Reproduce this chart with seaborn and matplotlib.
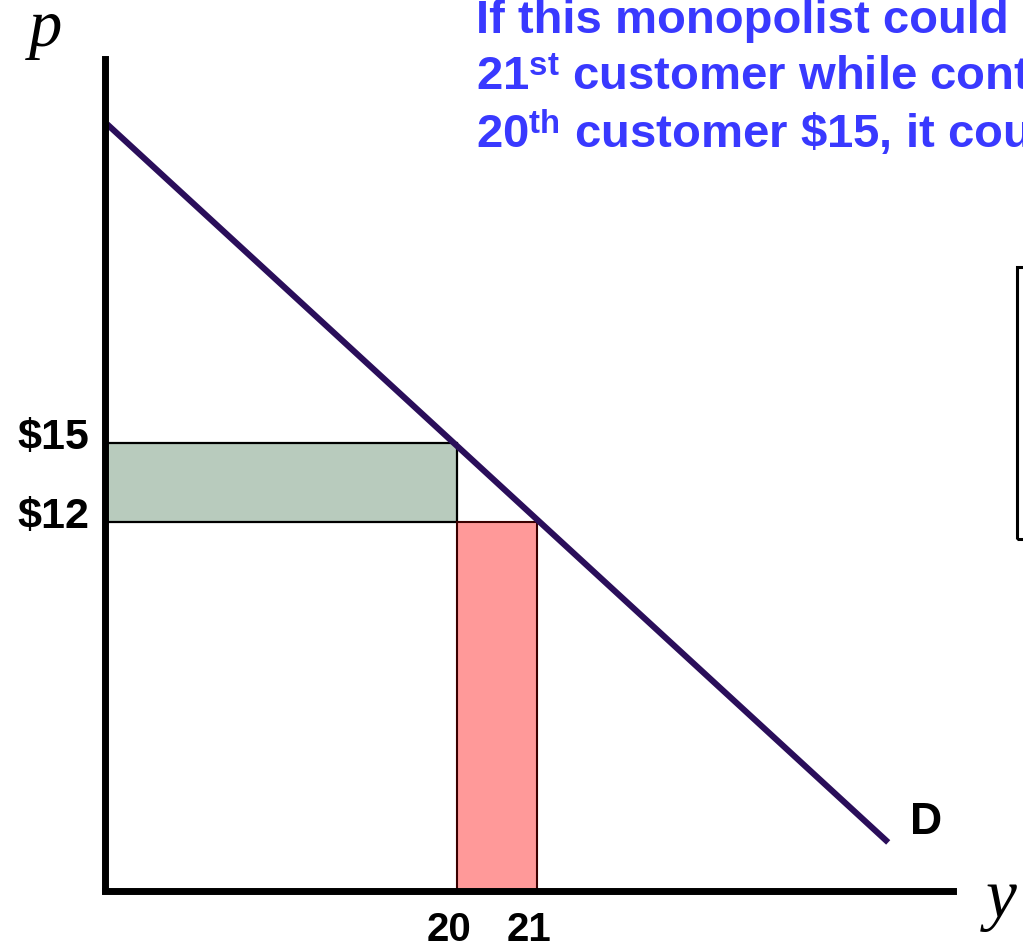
import matplotlib
matplotlib.use("Agg")
import matplotlib.pyplot as plt
from matplotlib.patches import Rectangle
from matplotlib.transforms import ScaledTranslation
import seaborn as sns

# ---- data ----
quantity = [20, 21]            # customers
prices = [15, 12]              # $ per unit
price_labels = ["$15", "$12"]
qty_labels = ["20", "21"]
demand_q = [15.625, 25.39]     # demand line endpoints (schematic)
demand_p = [27.11, -0.15]
title_lines = [r"If this monopolist could",
               r"21$^{\mathbf{st}}$ customer while cont",
               r"20$^{\mathbf{th}}$ customer \$15, it cou"]

W, H = 1023, 951
sns.set_style("white")
plt.rcParams["font.family"] = ["Liberation Sans", "DejaVu Sans"]
plt.rcParams["mathtext.fontset"] = "custom"
plt.rcParams["mathtext.rm"] = "Liberation Sans:bold"
plt.rcParams["mathtext.bf"] = "Liberation Sans:bold"
plt.rcParams["mathtext.it"] = "Liberation Serif:italic"
plt.rcParams["text.color"] = "black"
plt.rcParams["xtick.color"] = "black"
plt.rcParams["ytick.color"] = "black"

fig = plt.figure(figsize=(W / 100, H / 100), dpi=100)
fig.patch.set_facecolor("white")

def fx(x):
    return x / W

def fy(y):
    return 1 - y / H

left_px, right_px, top_px, bot_px = 104.5, 953, 59, 890.5
ax = fig.add_axes([fx(left_px), fy(bot_px), fx(right_px) - fx(left_px), fy(top_px) - fy(bot_px)])
xlim = (15.594, 26.2)
ylim = (-1.975, 29.58)
ax.set_xlim(*xlim)
ax.set_ylim(*ylim)

# green area (price difference over first 20 customers)
ax.add_patch(Rectangle((xlim[0], prices[1]), quantity[0] - xlim[0], prices[0] - prices[1],
                       facecolor="#b8cbbd", edgecolor="black", lw=1.6, zorder=2))
# red area (revenue from the 21st customer)
ax.add_patch(Rectangle((quantity[0], ylim[0]), quantity[1] - quantity[0], prices[1] - ylim[0],
                       facecolor="#ff9999", edgecolor="#3a0000", lw=1.5, zorder=2))

sns.lineplot(x=demand_q, y=demand_p, ax=ax, color="#2a0e5a", lw=4.4, zorder=3,
             solid_capstyle="butt")

ax.annotate("D", xy=(demand_q[-1], demand_p[-1]), xytext=(16, 14), textcoords="offset points",
            ha="left", va="center", fontsize=32, fontweight="bold", color="black")

for s in ["top", "right"]:
    ax.spines[s].set_visible(False)
for s in ["left", "bottom"]:
    ax.spines[s].set_linewidth(5)
    ax.spines[s].set_color("black")
    ax.spines[s].set_zorder(4)

ax.set_yticks(prices, price_labels)
ax.set_xticks(quantity, qty_labels)
ax.tick_params(axis="y", length=0, pad=11, labelsize=31, labelcolor="black")
ax.tick_params(axis="x", length=0, pad=15, labelsize=29, labelcolor="black")
for lab in ax.get_yticklabels():
    lab.set_fontweight("bold")
    lab.set_transform(lab.get_transform() + ScaledTranslation(0, 10 / 100, fig.dpi_scale_trans))
for lab in ax.get_xticklabels():
    lab.set_fontweight("bold")
    lab.set_transform(lab.get_transform() + ScaledTranslation(-8 / 100, 0, fig.dpi_scale_trans))

# axis letters
fig.text(fx(25), fy(62), r"$p$", fontsize=48, va="bottom")
fig.text(fx(980), fy(934), r"$y$", fontsize=50, va="bottom")

# title text (cut at the right edge, as in the original slide)
for i, line in enumerate(title_lines):
    fig.text(fx(476), fy(33 + 57.5 * i), line, fontsize=34, fontweight="bold",
             color="#3939ff", va="baseline", ha="left")

# partial box at right edge
fig.patches.append(Rectangle((fx(1017), fy(539)), fx(40), fy(267) - fy(539),
                             transform=fig.transFigure, fill=False, edgecolor="black",
                             lw=2.2, figure=fig))

fig.savefig("out.png", dpi=100, facecolor="white")
